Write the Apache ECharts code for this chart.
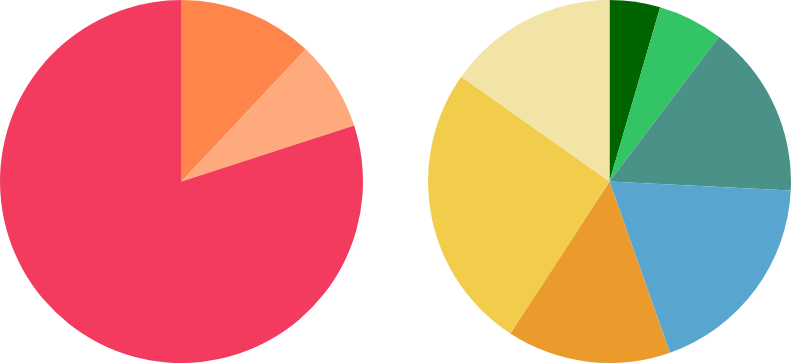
<!DOCTYPE html>
<html>
<head>
<meta charset="utf-8">
<script src="https://cdn.jsdelivr.net/npm/echarts@6/dist/echarts.min.js"></script>
<style>html,body{margin:0;padding:0;background:#fff;}#c{width:791px;height:363px;}</style>
</head>
<body>
<div id="c"></div>
<script>
var leftNames = ['A', 'B', 'C'];
var leftValues = [12, 8, 80];
var leftColors = ['#FF854A', '#FFAA7D', '#F23B5F'];

var rightNames = ['D', 'E', 'F', 'G', 'H', 'I', 'J'];
var rightValues = [4.5, 5.8, 15.5, 18.8, 14.6, 25.6, 15.2];
var rightColors = ['#006400', '#33C466', '#4A9287', '#58A6D0', '#EB9B2C', '#F1CD4B', '#F2E3A7'];

function build(names, values, colors) {
  return names.map(function (n, i) {
    return { name: n, value: values[i], itemStyle: { color: colors[i] } };
  });
}

var chart = echarts.init(document.getElementById('c'), null, { renderer: 'canvas' });
chart.setOption({
  animation: false,
  series: [
    {
      type: 'pie',
      center: [181.5, 181.5],
      radius: [0, 181.5],
      startAngle: 90,
      clockwise: true,
      label: { show: false },
      labelLine: { show: false },
      emphasis: { disabled: true },
      data: build(leftNames, leftValues, leftColors)
    },
    {
      type: 'pie',
      center: [609.5, 181.5],
      radius: [0, 181.5],
      startAngle: 90,
      clockwise: true,
      label: { show: false },
      labelLine: { show: false },
      emphasis: { disabled: true },
      data: build(rightNames, rightValues, rightColors)
    }
  ]
});
</script>
</body>
</html>
